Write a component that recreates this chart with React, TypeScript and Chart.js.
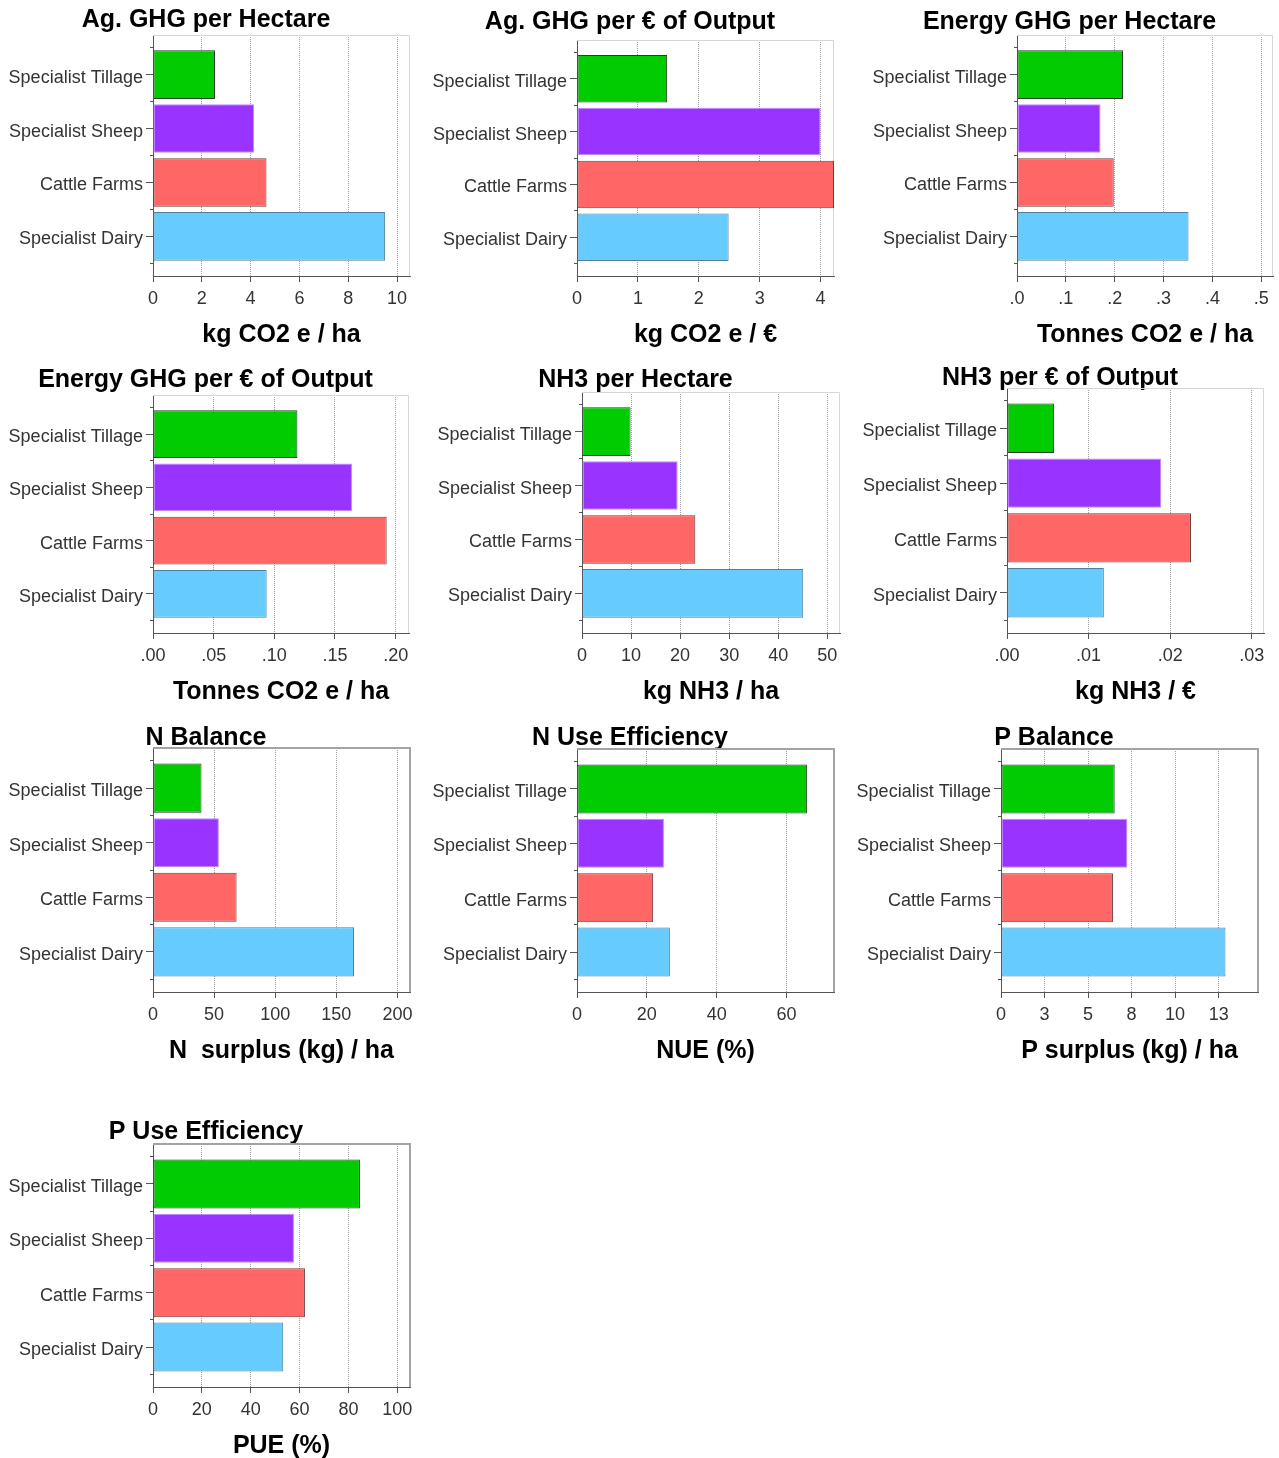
import React, { useEffect, useRef } from 'react';
import { Chart, registerables } from 'chart.js';

Chart.register(...registerables);

// ---------- data ----------
const CATEGORIES = ['Specialist Tillage', 'Specialist Sheep', 'Cattle Farms', 'Specialist Dairy'];
const BAR_COLORS = ['#00CC00', '#9933FF', '#FF6666', '#66CCFF'];
const BAR_BORDERS = ['#244024', '#c08cff', '#6e3d3d', '#4f7f9c'];

const AG_GHG_HA = [2.54, 4.14, 4.65, 9.51];
const AG_GHG_EUR = [1.48, 4.0, 4.22, 2.49];
const EN_GHG_HA = [0.217, 0.171, 0.198, 0.351];
const EN_GHG_EUR = [0.119, 0.164, 0.1926, 0.0937];
const NH3_HA = [9.9, 19.5, 23.1, 45.1];
const NH3_EUR = [0.00577, 0.0189, 0.02255, 0.01187];
const N_BALANCE = [39.7, 53.9, 68.4, 164.5];
const NUE = [65.9, 24.9, 21.8, 26.6];
const P_BALANCE = [6.53, 7.26, 6.43, 12.89];
const PUE = [84.7, 57.7, 62.2, 53.3];

const AG_GHG_HA_TICKS = [0, 2, 4, 6, 8, 10];
const AG_GHG_HA_LABELS = ['0', '2', '4', '6', '8', '10'];
const AG_GHG_EUR_TICKS = [0, 1, 2, 3, 4];
const AG_GHG_EUR_LABELS = ['0', '1', '2', '3', '4'];
const EN_GHG_HA_TICKS = [0, 0.1, 0.2, 0.3, 0.4, 0.5];
const EN_GHG_HA_LABELS = ['.0', '.1', '.2', '.3', '.4', '.5'];
const EN_GHG_EUR_TICKS = [0, 0.05, 0.1, 0.15, 0.2];
const EN_GHG_EUR_LABELS = ['.00', '.05', '.10', '.15', '.20'];
const NH3_HA_TICKS = [0, 10, 20, 30, 40, 50];
const NH3_HA_LABELS = ['0', '10', '20', '30', '40', '50'];
const NH3_EUR_TICKS = [0, 0.01, 0.02, 0.03];
const NH3_EUR_LABELS = ['.00', '.01', '.02', '.03'];
const N_BALANCE_TICKS = [0, 50, 100, 150, 200];
const N_BALANCE_LABELS = ['0', '50', '100', '150', '200'];
const NUE_TICKS = [0, 20, 40, 60];
const NUE_LABELS = ['0', '20', '40', '60'];
const P_BALANCE_TICKS = [0, 2.5, 5, 7.5, 10, 12.5];
const P_BALANCE_LABELS = ['0', '3', '5', '8', '10', '13'];
const PUE_TICKS = [0, 20, 40, 60, 80, 100];
const PUE_LABELS = ['0', '20', '40', '60', '80', '100'];

// category centres and the boundaries between them (index positions on the y scale)
const Y_TICKS = [-0.5, 0, 0.5, 1, 1.5, 2, 2.5, 3, 3.5];

// ---------- layout / style ----------
const FONT = "'Liberation Sans', Arial, Helvetica, sans-serif";
const Y_AXIS_W = 151;
const X_AXIS_H = 74;
const PAD_L = 2;
const PAD_R = 10;
const LIGHT_FRAME = { color: '#d6d6d6', width: 1 };
const DARK_FRAME = { color: '#a3a3a3', width: 2 };

type PanelDef = {
  title: string;
  xTitle: string;
  values: number[];
  ticks: number[];
  labels: string[];
  max: number;
  L: number; R: number; T: number; B: number; TY: number;
  frame: { color: string; width: number };
};

const PANELS: PanelDef[] = [
  { title: 'Ag. GHG per Hectare', xTitle: 'kg CO2 e / ha', values: AG_GHG_HA, ticks: AG_GHG_HA_TICKS, labels: AG_GHG_HA_LABELS, max: 10.53, L: 153, R: 410, T: 35, B: 276, TY: 18, frame: LIGHT_FRAME },
  { title: 'Ag. GHG per € of Output', xTitle: 'kg CO2 e / €', values: AG_GHG_EUR, ticks: AG_GHG_EUR_TICKS, labels: AG_GHG_EUR_LABELS, max: 4.22, L: 577, R: 834, T: 40, B: 276, TY: 20, frame: LIGHT_FRAME },
  { title: 'Energy GHG per Hectare', xTitle: 'Tonnes CO2 e / ha', values: EN_GHG_HA, ticks: EN_GHG_HA_TICKS, labels: EN_GHG_HA_LABELS, max: 0.524, L: 1017, R: 1273, T: 35, B: 276, TY: 20, frame: LIGHT_FRAME },
  { title: 'Energy GHG per € of Output', xTitle: 'Tonnes CO2 e / ha', values: EN_GHG_EUR, ticks: EN_GHG_EUR_TICKS, labels: EN_GHG_EUR_LABELS, max: 0.211, L: 153, R: 409, T: 395, B: 633, TY: 378, frame: LIGHT_FRAME },
  { title: 'NH3 per Hectare', xTitle: 'kg NH3 / ha', values: NH3_HA, ticks: NH3_HA_TICKS, labels: NH3_HA_LABELS, max: 52.6, L: 582, R: 840, T: 392, B: 633, TY: 378, frame: LIGHT_FRAME },
  { title: 'NH3 per € of Output', xTitle: 'kg NH3 / €', values: NH3_EUR, ticks: NH3_EUR_TICKS, labels: NH3_EUR_LABELS, max: 0.0315, L: 1007, R: 1264, T: 388, B: 633, TY: 376, frame: LIGHT_FRAME },
  { title: 'N Balance', xTitle: 'N  surplus (kg) / ha', values: N_BALANCE, ticks: N_BALANCE_TICKS, labels: N_BALANCE_LABELS, max: 210.3, L: 153, R: 410, T: 748, B: 992, TY: 736, frame: DARK_FRAME },
  { title: 'N Use Efficiency', xTitle: 'NUE (%)', values: NUE, ticks: NUE_TICKS, labels: NUE_LABELS, max: 73.6, L: 577, R: 834, T: 749, B: 992, TY: 736, frame: DARK_FRAME },
  { title: 'P Balance', xTitle: 'P surplus (kg) / ha', values: P_BALANCE, ticks: P_BALANCE_TICKS, labels: P_BALANCE_LABELS, max: 14.76, L: 1001, R: 1258, T: 749, B: 992, TY: 736, frame: DARK_FRAME },
  { title: 'P Use Efficiency', xTitle: 'PUE (%)', values: PUE, ticks: PUE_TICKS, labels: PUE_LABELS, max: 105.2, L: 153, R: 410, T: 1144, B: 1387, TY: 1130, frame: DARK_FRAME },
];

const framePlugin = {
  id: 'frame',
  beforeDatasetsDraw(chart: any, _args: any, opts: any) {
    const { ctx, chartArea } = chart;
    const { left, right, top } = chartArea;
    const w = opts.width || 1;
    ctx.save();
    ctx.strokeStyle = opts.color;
    ctx.lineWidth = w;
    ctx.beginPath();
    const yTop = w % 2 === 1 ? Math.round(top) + 0.5 : Math.round(top) + w / 2 - 1;
    const xRight = w % 2 === 1 ? Math.round(right) - 0.5 : Math.round(right) - w / 2 + 1;
    ctx.moveTo(left, yTop);
    ctx.lineTo(xRight, yTop);
    ctx.lineTo(xRight, chartArea.bottom);
    ctx.stroke();
    ctx.restore();
  },
};

function geometry(p: PanelDef) {
  const left = p.L - Y_AXIS_W - PAD_L;
  const width = p.R + PAD_R - left;
  const top = p.TY - 12;
  const height = p.B + X_AXIS_H - top;
  // title block: 4px top padding + 20px line box = 24px, then padding down to the plot
  const titlePadBottom = Math.max(0, p.T - top - 24);
  return { left, width, top, height, titlePadBottom };
}

function Panel({ p }: { p: PanelDef }) {
  const ref = useRef<HTMLCanvasElement | null>(null);
  const g = geometry(p);

  useEffect(() => {
    if (!ref.current) return;
    const chart = new Chart(ref.current, {
      type: 'bar',
      data: {
        datasets: [
          {
            data: p.values.map((v, i) => ({ x: v, y: i })),
            backgroundColor: BAR_COLORS,
            borderColor: BAR_BORDERS,
            borderWidth: 1,
            borderSkipped: false,
            // the ruler also sees the half-step boundary ticks, so its unit is half a category
            categoryPercentage: 1.8,
            barPercentage: 1,
          } as any,
        ],
      },
      options: {
        indexAxis: 'y',
        responsive: false,
        animation: false,
        devicePixelRatio: 1,
        layout: { padding: { left: PAD_L, right: PAD_R, top: 0, bottom: 0 } },
        plugins: {
          legend: { display: false },
          tooltip: { enabled: false },
          title: {
            display: true,
            text: p.title,
            color: '#000',
            font: { family: FONT, size: 25, weight: 'bold', lineHeight: '20px' },
            padding: { top: 4, bottom: g.titlePadBottom },
          },
          frame: p.frame,
        } as any,
        scales: {
          x: {
            type: 'linear',
            position: 'bottom',
            min: 0,
            max: p.max,
            bounds: 'data',
            offset: false,
            afterBuildTicks: (s: any) => {
              s.ticks = p.ticks.map((v) => ({ value: v }));
            },
            afterFit: (s: any) => {
              s.height = X_AXIS_H;
            },
            ticks: {
              autoSkip: false,
              maxRotation: 0,
              padding: 6,
              color: '#333',
              font: { family: FONT, size: 18 },
              callback: (_v: any, i: number) => p.labels[i],
            },
            grid: {
              display: true,
              offset: false,
              drawOnChartArea: true,
              drawTicks: true,
              tickLength: 6,
              tickColor: '#555',
              tickWidth: 1,
              lineWidth: 1,
              color: (ctx: any) => (ctx.tick && ctx.tick.value === 0 ? 'rgba(0,0,0,0)' : '#9a9a9a'),
            },
            border: { display: true, color: '#555', width: 1, dash: [1, 1] },
            title: {
              display: true,
              text: p.xTitle,
              color: '#000',
              font: { family: FONT, size: 25, weight: 'bold', lineHeight: 1.2 },
              padding: { top: 0, bottom: 0 },
            },
          },
          y: {
            type: 'linear',
            reverse: true,
            min: -0.735,
            max: 3.735,
            bounds: 'data',
            offset: false,
            afterBuildTicks: (s: any) => {
              s.ticks = Y_TICKS.map((v) => ({ value: v }));
            },
            afterFit: (s: any) => {
              s.width = Y_AXIS_W;
            },
            ticks: {
              autoSkip: false,
              padding: 3,
              labelOffset: 3,
              color: '#333',
              font: { family: FONT, size: 18 },
              callback: (v: any) => (Number.isInteger(v) ? CATEGORIES[v] : ''),
            },
            grid: {
              display: true,
              offset: false,
              drawOnChartArea: false,
              drawTicks: true,
              tickLength: 7,
              tickColor: '#555',
              tickWidth: 1,
              tickBorderDash: (ctx: any) => (ctx.tick && Number.isInteger(ctx.tick.value) ? [] : [0, 4, 3, 0]),
            },
            border: { display: true, color: '#555', width: 1 },
          },
        },
      } as any,
      plugins: [framePlugin as any],
    });
    return () => chart.destroy();
  }, []);

  return (
    <canvas
      ref={ref}
      width={g.width}
      height={g.height}
      style={{ position: 'absolute', left: g.left, top: g.top, width: g.width, height: g.height }}
    />
  );
}

export default function App() {
  return (
    <div style={{ position: 'absolute', left: 0, top: 0, width: 1279, height: 1458, background: '#fff', overflow: 'hidden' }}>
      {PANELS.map((p) => (
        <Panel key={p.title} p={p} />
      ))}
    </div>
  );
}
